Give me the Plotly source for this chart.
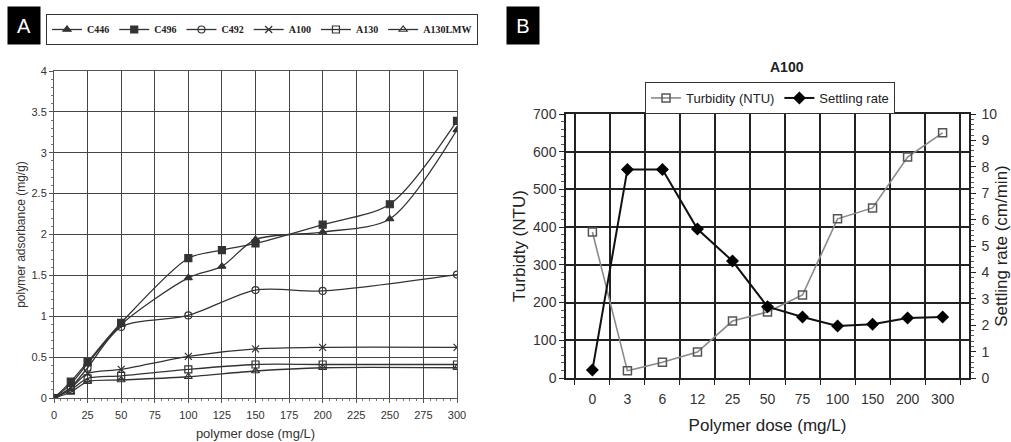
import plotly.graph_objects as go

# ---------------- Panel A data ----------------
dose_long = [0, 12.5, 25, 50, 100, 125, 150, 200, 250, 300]
dose_short = [0, 12.5, 25, 50, 100, 150, 200, 300]
c446 = [0, 0.17, 0.42, 0.90, 1.47, 1.61, 1.94, 2.03, 2.19, 3.28]
c496 = [0, 0.20, 0.44, 0.92, 1.71, 1.81, 1.89, 2.12, 2.37, 3.39]
c492 = [0, 0.13, 0.37, 0.87, 1.01, 1.32, 1.31, 1.51]
a100 = [0, 0.12, 0.30, 0.35, 0.51, 0.60, 0.62, 0.62]
a130 = [0, 0.10, 0.24, 0.27, 0.35, 0.41, 0.41, 0.41]
a130lmw = [0, 0.07, 0.20, 0.22, 0.26, 0.33, 0.37, 0.37]

# ---------------- Panel B data ----------------
doses_b = ["0", "3", "6", "12", "25", "50", "75", "100", "150", "200", "300"]
turbidity = [387, 19, 42, 69, 151, 175, 220, 422, 451, 586, 650]
settling = [0.3, 7.9, 7.9, 5.64, 4.43, 2.7, 2.31, 1.97, 2.04, 2.27, 2.31]

W, H = 1011, 442
def px(x): return x / W
def py(y): return 1 - y / H

fig = go.Figure()
LC = "#333333"
sansA = "Liberation Sans, Arial, sans-serif"

seriesA = [
    ("C446", dose_long, c446, "triangle-up", LC),
    ("C496", dose_long, c496, "square", LC),
    ("C492", dose_short, c492, "circle-open", LC),
    ("A100", dose_short, a100, "x-thin-open", LC),
    ("A130", dose_short, a130, "square-open", LC),
    ("A130LMW", dose_short, a130lmw, "triangle-up-open", LC),
]
for name, xs, ys, sym, col in seriesA:
    fig.add_trace(go.Scatter(
        x=xs, y=ys, name=name, mode="lines+markers",
        line=dict(color=col, width=1.3, shape="spline", smoothing=0.8),
        marker=dict(symbol=sym, size=7, color=col, line=dict(color=col, width=1.2)),
        xaxis="x", yaxis="y", legend="legend"))

fig.add_trace(go.Scatter(
    x=doses_b, y=turbidity, name="Turbidity (NTU)", mode="lines+markers",
    line=dict(color="#8a8a8a", width=1.6),
    marker=dict(symbol="square-open", size=8, color="#555555", line=dict(width=1.5)),
    xaxis="x2", yaxis="y2", legend="legend2"))
fig.add_trace(go.Scatter(
    x=doses_b, y=settling, name="Settling rate", mode="lines+markers",
    line=dict(color="#111111", width=2),
    marker=dict(symbol="diamond", size=10, color="#000000"),
    xaxis="x2", yaxis="y3", legend="legend2"))

gridA = "#444444"
fig.update_layout(
    width=W, height=H, margin=dict(l=0, r=0, t=0, b=0),
    paper_bgcolor="white", plot_bgcolor="white",
    showlegend=True,
    xaxis=dict(domain=[px(54), px(457)], anchor="y", range=[0, 300], dtick=25, tick0=0,
               showgrid=True, gridcolor=gridA, gridwidth=1, zeroline=False,
               showline=True, linecolor="#555555", linewidth=1, mirror=True,
               ticks="outside", ticklen=4, tickcolor="#555555",
               minor=dict(dtick=5, ticks="outside", ticklen=2, tickcolor="#777777", showgrid=False),
               tickfont=dict(family=sansA, size=11, color="#333333"), ticklabelstandoff=3,
               title=dict(text="polymer dose (mg/L)", font=dict(family=sansA, size=13, color="#333333"), standoff=8),
               automargin=False),
    yaxis=dict(domain=[py(398), py(71)], anchor="x", range=[0, 4], dtick=0.5,
               showgrid=True, gridcolor=gridA, gridwidth=1, zeroline=False,
               showline=True, linecolor="#555555", linewidth=1, mirror=True,
               ticks="outside", ticklen=4, tickcolor="#555555",
               minor=dict(dtick=0.1, ticks="outside", ticklen=2, tickcolor="#777777", showgrid=False),
               tickfont=dict(family=sansA, size=11, color="#333333"),
               title=dict(text="polymer adsorbance (mg/g)", font=dict(family=sansA, size=12, color="#333333"), standoff=3),
               automargin=False),
    xaxis2=dict(domain=[px(566), px(969)], anchor="y2", type="category",
                categoryorder="array", categoryarray=doses_b, tickson="boundaries",
                showgrid=True, gridcolor="#222222", gridwidth=1.5,
                showline=True, linecolor="#222222", linewidth=1.5, mirror=True,
                ticks="outside", ticklen=5, tickcolor="#222222",
                tickfont=dict(family=sansA, size=14, color="#333333"), ticklabelstandoff=7,
                title=dict(text="Polymer dose (mg/L)", font=dict(family=sansA, size=17, color="#222222"), standoff=14),
                automargin=False),
    yaxis2=dict(domain=[py(378), py(114)], anchor="x2", range=[0, 700], dtick=100,
                showgrid=True, gridcolor="#222222", gridwidth=1.5, zeroline=False,
                showline=True, linecolor="#222222", linewidth=1.5,
                ticks="outside", ticklen=5, tickcolor="#222222",
                minor=dict(dtick=20, ticks="outside", ticklen=3, tickcolor="#555555", showgrid=False),
                tickfont=dict(family=sansA, size=14, color="#333333"),
                title=dict(text="Turbidty (NTU)", font=dict(family=sansA, size=17, color="#222222"), standoff=3),
                automargin=False),
    yaxis3=dict(overlaying="y2", anchor="x2", side="right", range=[0, 10], dtick=1,
                showgrid=False, zeroline=False,
                showline=True, linecolor="#222222", linewidth=1.5,
                ticks="outside", ticklen=5, tickcolor="#222222",
                minor=dict(dtick=0.2, ticks="outside", ticklen=3, tickcolor="#555555"),
                tickfont=dict(family=sansA, size=14, color="#333333"), ticklabelstandoff=3,
                title=dict(text="Settling rate (cm/min)", font=dict(family=sansA, size=17, color="#222222"), standoff=8),
                automargin=False),
    legend=dict(orientation="h", x=px(262), y=py(14), xanchor="center", yanchor="top",
                bordercolor="#333333", borderwidth=1, bgcolor="white",
                font=dict(family="Liberation Serif, Times New Roman, serif", size=10, color="#222222", weight="bold"),
                itemwidth=30, tracegroupgap=0),
    legend2=dict(orientation="h", x=px(645), y=py(82), xanchor="left", yanchor="top",
                 bordercolor="#333333", borderwidth=1, bgcolor="white",
                 font=dict(family=sansA, size=13, color="#222222"), itemwidth=30),
    annotations=[
        dict(text="A", x=px(7), y=py(6), xref="paper", yref="paper", xanchor="left", yanchor="top",
             showarrow=False, bgcolor="black", width=30, height=35, font=dict(family=sansA, size=20, color="white")),
        dict(text="B", x=px(506), y=py(6), xref="paper", yref="paper", xanchor="left", yanchor="top",
             showarrow=False, bgcolor="black", width=30, height=35, font=dict(family=sansA, size=20, color="white")),
        dict(text="<b>A100</b>", x=px(787), y=py(67), xref="paper", yref="paper", xanchor="center", yanchor="middle",
             showarrow=False, font=dict(family=sansA, size=14, color="#222222")),
    ],
)

fig.write_html("out.html")
